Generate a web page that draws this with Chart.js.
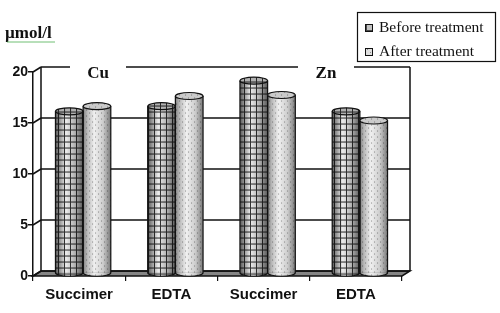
<!DOCTYPE html>
<html>
<head>
<meta charset="utf-8">
<script src="https://cdn.jsdelivr.net/npm/chart.js@4.4.1/dist/chart.umd.min.js"></script>
<style>
html,body{margin:0;padding:0;background:#fff;}
#wrap{width:500px;height:313px;position:relative;}
</style>
</head>
<body>
<div id="wrap"><canvas id="c" width="500" height="313"></canvas></div>
<script>
const categories = ['Succimer', 'EDTA', 'Succimer', 'EDTA'];
const beforeValues = [15.9, 16.4, 18.9, 15.9];
const afterValues = [16.4, 17.4, 17.5, 15.0];
const seriesLabels = ['Before treatment', 'After treatment'];
const yTicks = [0, 5, 10, 15, 20];
const groupLabels = ['Cu', 'Zn'];
const unitLabel = 'µmol/l';

function makePattern(kind) {
  const c = document.createElement('canvas');
  const s = 6;
  c.width = s; c.height = s;
  const g = c.getContext('2d');
  if (kind === 'grid') {
    g.fillStyle = '#ececec'; g.fillRect(0, 0, s, s);
    g.fillStyle = '#333333';
    g.fillRect(0, 0, s, 1);
    g.fillRect(0, 0, 1, s);
  } else {
    g.fillStyle = '#f0f0f0'; g.fillRect(0, 0, s, s);
    g.fillStyle = '#8a8a8a';
    g.fillRect(1, 1, 1, 1);
    g.fillRect(4, 4, 1, 1);
  }
  const ctx = document.getElementById('c').getContext('2d');
  return ctx.createPattern(c, 'repeat');
}
const patBefore = makePattern('grid');
const patAfter = makePattern('dots');

const DX = 8, DY = 5;      // depth of the back wall
const BX = 4, BY = -2.5;   // bars stand at mid depth

const threeD = {
  id: 'threeD',
  beforeDatasetsDraw(chart) {
    const ctx = chart.ctx;
    const { left, right, top, bottom } = chart.chartArea;
    const y = chart.scales.y;
    ctx.save();
    ctx.lineWidth = 1.5;
    ctx.strokeStyle = '#111';
    // floor
    ctx.beginPath();
    ctx.moveTo(left, bottom);
    ctx.lineTo(left + DX, bottom - DY);
    ctx.lineTo(right + DX, bottom - DY);
    ctx.lineTo(right, bottom);
    ctx.closePath();
    ctx.fillStyle = '#858585';
    ctx.fill();
    ctx.stroke();
    // back wall grid + left wall diagonals
    yTicks.forEach(v => {
      const py = Math.round(y.getPixelForValue(v));
      ctx.beginPath();
      ctx.moveTo(left + DX, py - DY);
      ctx.lineTo(right + DX, py - DY);
      ctx.stroke();
      ctx.beginPath();
      ctx.moveTo(left, py);
      ctx.lineTo(left + DX, py - DY);
      ctx.stroke();
    });
    // back-left and right wall verticals
    ctx.beginPath();
    ctx.moveTo(left + DX, top - DY);
    ctx.lineTo(left + DX, bottom - DY);
    ctx.moveTo(right + DX, top - DY);
    ctx.lineTo(right + DX, bottom - DY);
    ctx.stroke();
    // group labels on the top line
    const ly = Math.round(y.getPixelForValue(20)) - DY;
    const labelPos = [left + 65, left + 293];
    ctx.font = 'bold 17px "Liberation Serif", "Times New Roman", serif';
    ctx.textAlign = 'center';
    ctx.textBaseline = 'middle';
    groupLabels.forEach((t, i) => {
      ctx.fillStyle = '#fff';
      ctx.fillRect(labelPos[i] - 28, ly - 3, 56, 6);
      ctx.fillStyle = '#111';
      ctx.fillText(t, labelPos[i], ly + 7);
    });
    ctx.restore();
    ctx.save();
    ctx.translate(BX, BY);
  },
  afterDatasetsDraw(chart) {
    const ctx = chart.ctx;
    chart.data.datasets.forEach((ds, di) => {
      const meta = chart.getDatasetMeta(di);
      const pat = di === 0 ? patBefore : patAfter;
      meta.data.forEach(el => {
        const { x, y, base, width } = el.getProps(['x', 'y', 'base', 'width'], true);
        const rx = width / 2, ry = 3.5;
        const x0 = x - rx, x1 = x + rx;
        ctx.fillStyle = pat;
        ctx.beginPath();
        ctx.ellipse(x, base, rx, ry, 0, 0, Math.PI);
        ctx.fill();
        const g = ctx.createLinearGradient(x0, 0, x1, 0);
        if (di === 0) {
          g.addColorStop(0, '#606060');
          g.addColorStop(0.15, '#a0a0a0');
          g.addColorStop(0.38, '#ffffff');
          g.addColorStop(0.7, '#c0c0c0');
          g.addColorStop(1, '#606060');
        } else {
          g.addColorStop(0, '#8a8a8a');
          g.addColorStop(0.15, '#c4c4c4');
          g.addColorStop(0.4, '#ffffff');
          g.addColorStop(0.72, '#dadada');
          g.addColorStop(1, '#808080');
        }
        ctx.save();
        ctx.globalCompositeOperation = 'multiply';
        ctx.fillStyle = g;
        ctx.beginPath();
        ctx.moveTo(x0, y);
        ctx.lineTo(x1, y);
        ctx.lineTo(x1, base);
        ctx.ellipse(x, base, rx, ry, 0, 0, Math.PI);
        ctx.closePath();
        ctx.fill();
        ctx.restore();
        ctx.strokeStyle = '#111';
        ctx.lineWidth = 1.2;
        ctx.beginPath();
        ctx.moveTo(x0, y);
        ctx.lineTo(x0, base);
        ctx.ellipse(x, base, rx, ry, 0, Math.PI, 0, true);
        ctx.lineTo(x1, y);
        ctx.stroke();
        ctx.fillStyle = pat;
        ctx.beginPath();
        ctx.ellipse(x, y, rx, ry, 0, 0, Math.PI * 2);
        ctx.fill();
        ctx.save();
        ctx.globalCompositeOperation = 'multiply';
        ctx.fillStyle = di === 0 ? '#c0c0c0' : '#d8d8d8';
        ctx.fill();
        ctx.restore();
        ctx.stroke();
      });
    });
    ctx.restore();
  },
  afterDraw(chart) {
    const ctx = chart.ctx;
    ctx.save();
    ctx.fillStyle = '#111';
    ctx.font = 'bold 17px "Liberation Serif", "Times New Roman", serif';
    ctx.textAlign = 'left';
    ctx.textBaseline = 'alphabetic';
    ctx.fillText(unitLabel, 5, 38);
    ctx.strokeStyle = '#4caf50';
    ctx.lineWidth = 0.8;
    ctx.beginPath();
    for (let px = 7; px <= 55; px += 2) {
      const py = 41 + ((px / 2) % 2 === 0 ? 0 : 1);
      if (px === 7) ctx.moveTo(px, py); else ctx.lineTo(px, py);
    }
    ctx.stroke();
    ctx.strokeStyle = '#111';
    ctx.lineWidth = 1.2;
    ctx.strokeRect(357.5, 12.5, 138, 49);
    ctx.font = '15.5px "Liberation Serif", "Times New Roman", serif';
    const pats = [patBefore, patAfter];
    seriesLabels.forEach((t, i) => {
      const my = 24 + i * 24;
      ctx.fillStyle = pats[i];
      ctx.fillRect(365.5, my + 0.5, 7, 7);
      ctx.fillStyle = i === 0 ? 'rgba(120,120,120,0.35)' : 'rgba(160,160,160,0.2)';
      ctx.fillRect(365.5, my + 0.5, 7, 7);
      ctx.strokeStyle = '#111';
      ctx.lineWidth = 1;
      ctx.strokeRect(365.5, my + 0.5, 7, 7);
      ctx.fillStyle = '#111';
      ctx.fillText(t, 379, my + 7.5);
    });
    ctx.restore();
  }
};

new Chart(document.getElementById('c'), {
  type: 'bar',
  data: {
    labels: categories,
    datasets: [
      { label: seriesLabels[0], data: beforeValues, backgroundColor: patBefore, borderWidth: 0 },
      { label: seriesLabels[1], data: afterValues, backgroundColor: patAfter, borderWidth: 0 }
    ]
  },
  options: {
    responsive: false,
    animation: false,
    devicePixelRatio: 1,
    layout: { padding: { top: 72, right: 98, left: 0, bottom: 0 } },
    datasets: { bar: { categoryPercentage: 0.6, barPercentage: 1.0 } },
    plugins: { legend: { display: false }, tooltip: { enabled: false } },
    scales: {
      x: {
        afterFit(s) { s.height = 37; },
        grid: { display: true, drawOnChartArea: false, drawTicks: true, tickLength: 5, color: '#111', lineWidth: 1.2, offset: true },
        border: { display: false },
        ticks: { color: '#111', font: { family: '"Liberation Sans", Arial, sans-serif', weight: 'bold', size: 15 }, padding: 5, maxRotation: 0 }
      },
      y: {
        min: 0, max: 20,
        afterFit(s) { s.width = 33; },
        afterBuildTicks(s) { s.ticks = yTicks.map(v => ({ value: v })); },
        grid: { display: true, drawOnChartArea: false, drawTicks: true, tickLength: 5, color: '#111', lineWidth: 1.5 },
        border: { display: true, color: '#111', width: 1.5 },
        ticks: { color: '#111', font: { family: '"Liberation Sans", Arial, sans-serif', weight: 'bold', size: 14 }, padding: 0 }
      }
    }
  },
  plugins: [threeD]
});
</script>
</body>
</html>
